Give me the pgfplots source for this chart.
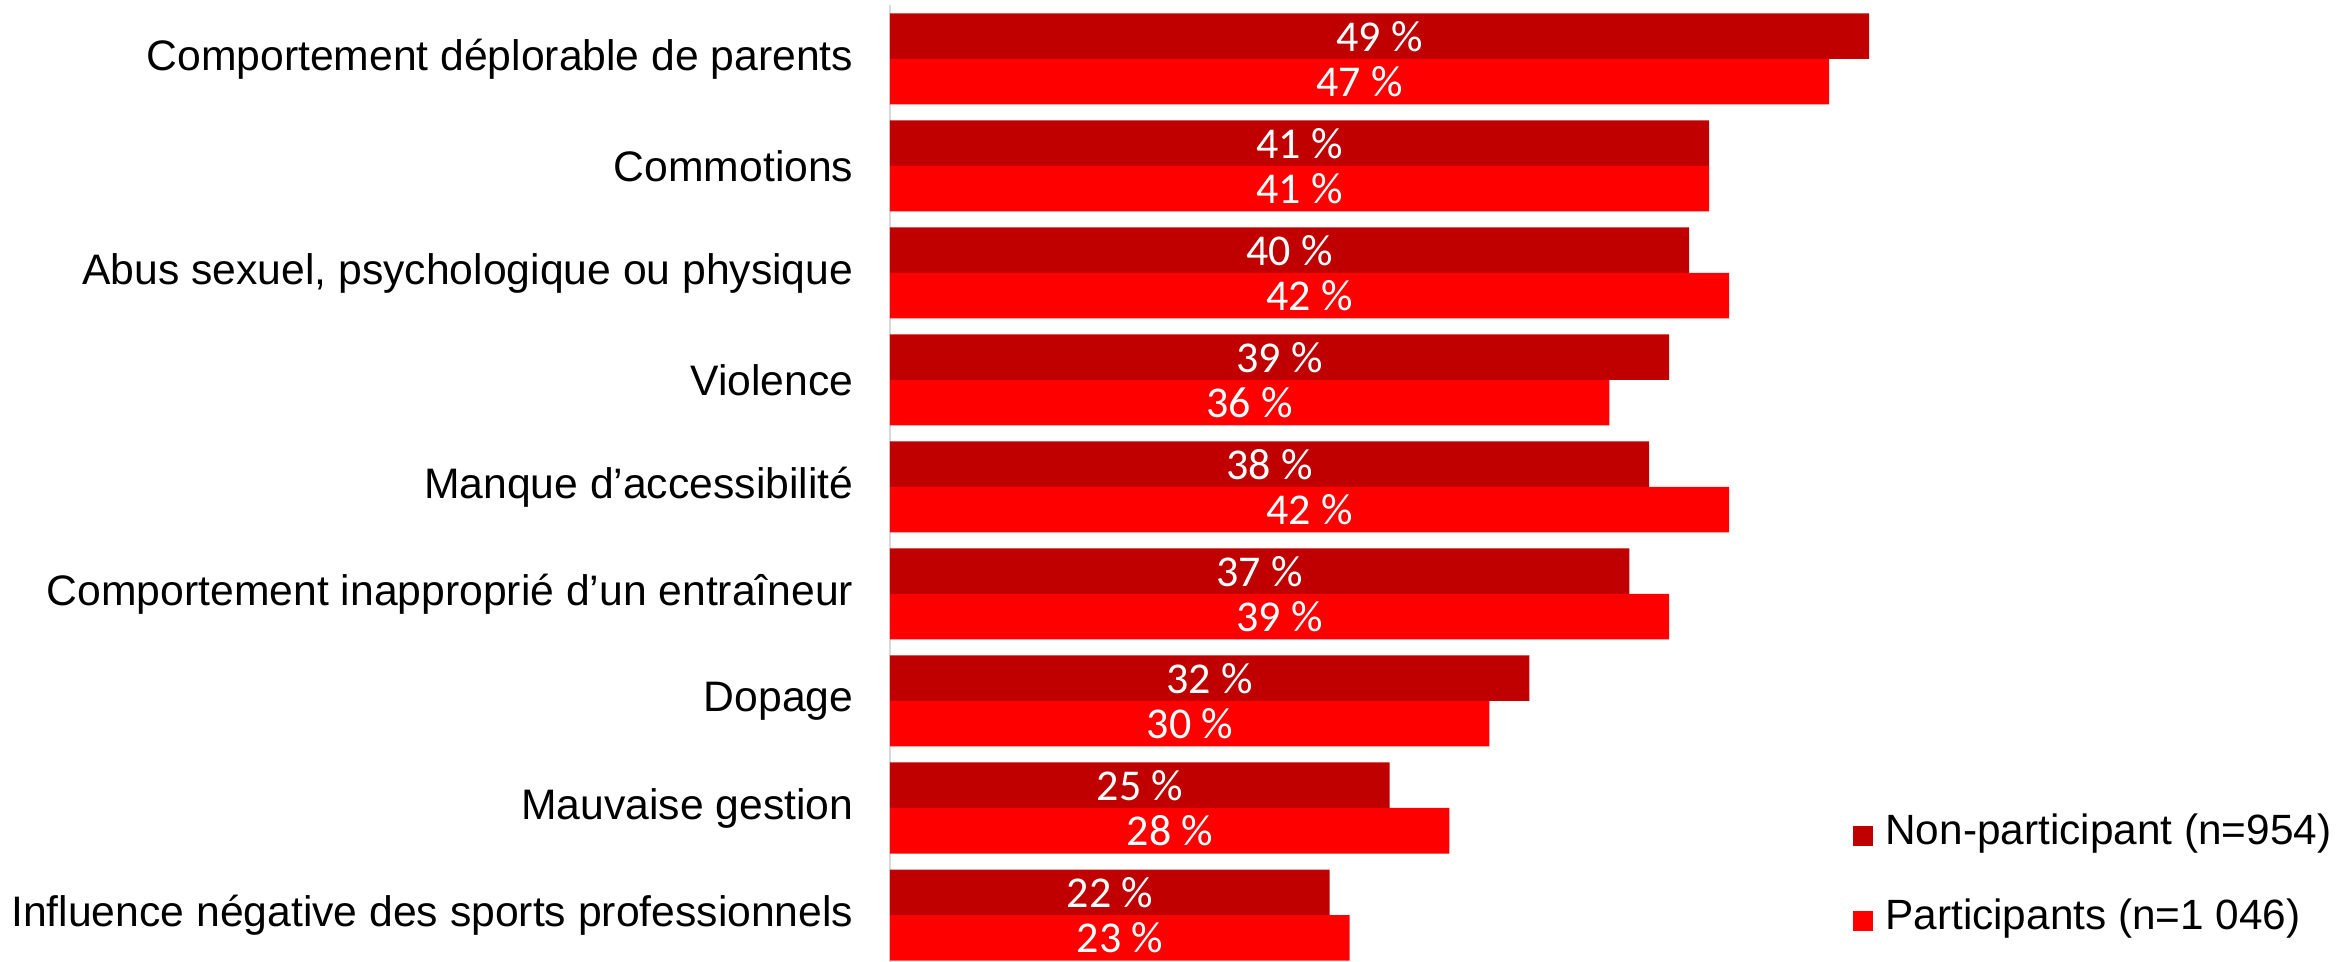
\documentclass[border=0pt]{standalone}
\usepackage{fontspec}
\setmainfont{Liberation Sans}
\newfontfamily\calibri{Carlito}
\usepackage{pgfplots}
\usepackage{pgfplotstable}
\pgfplotsset{compat=1.18}
\definecolor{darkred}{HTML}{C00000}
\definecolor{brightred}{HTML}{FF0000}
\definecolor{axisgray}{HTML}{D9D9D9}
\pgfplotstableread{
pos np p
8 49 47
7 41 41
6 40 42
5 39 36
4 38 42
3 37 39
2 32 30
1 25 28
0 22 23
}\datatable
\begin{document}
\begin{tikzpicture}
\useasboundingbox (0,0) rectangle (701.4pt,-288.6pt);
\begin{axis}[
  at={(267pt,-1.65pt)}, anchor=north west,
  scale only axis,
  width=359.64pt, height=288.9pt,
  xmin=0, xmax=60, ymin=-0.5, ymax=8.5,
  hide x axis,
  axis y line*=left,
  y axis line style={draw=axisgray, line width=0.6pt},
  ytick={0,...,8},
  yticklabels={Influence négative des sports professionnels, Mauvaise gestion, Dopage, Comportement inapproprié d’un entraîneur, Manque d’accessibilité, Violence, {Abus sexuel, psychologique ou physique}, Commotions, Comportement déplorable de parents},
  major tick length=0pt,
  yticklabel style={font=\fontsize{12.8}{15.3}\selectfont, anchor=east, inner sep=0pt, xshift=-10.8pt},
  clip=false,
  /pgf/number format/assume math mode=true,
  legend style={at={(axis description cs:0.8025,0.0935)}, anchor=west, draw=none, fill=none, inner sep=0pt,
    font=\fontsize{12.7}{15.2}\selectfont, row sep=15.5pt, column sep=3.6pt,
    nodes={inner sep=0pt, text height=0.75em, text depth=0.25em}},
  legend cell align=left,
  legend image code/.code={\fill[#1] (0pt,-3.1pt) rectangle (6.2pt,3.1pt);},
]
\addplot[xbar, bar width=13.65pt, bar shift=6.825pt, draw=none, fill=darkred] table[x=np, y=pos] {\datatable};
\addlegendentry{Non-participant (n=954)}
\addplot[xbar, bar width=13.65pt, bar shift=-6.825pt, draw=none, fill=brightred] table[x=p, y=pos] {\datatable};
\addlegendentry{Participants (n=1 046)}
\addplot[forget plot, draw=none, mark=none, point meta=explicit,
  nodes near coords={\pgfmathprintnumber{\pgfplotspointmeta}~\%},
  every node near coord/.append style={anchor=center, inner sep=0pt, text=white, yshift=6.825pt, font=\calibri\fontsize{13.2}{15.5}\selectfont}]
  table[x expr=\thisrow{np}/2, y=pos, meta=np] {\datatable};
\addplot[forget plot, draw=none, mark=none, point meta=explicit,
  nodes near coords={\pgfmathprintnumber{\pgfplotspointmeta}~\%},
  every node near coord/.append style={anchor=center, inner sep=0pt, text=white, yshift=-6.825pt, font=\calibri\fontsize{13.2}{15.5}\selectfont}]
  table[x expr=\thisrow{p}/2, y=pos, meta=p] {\datatable};
\end{axis}
\end{tikzpicture}
\end{document}
